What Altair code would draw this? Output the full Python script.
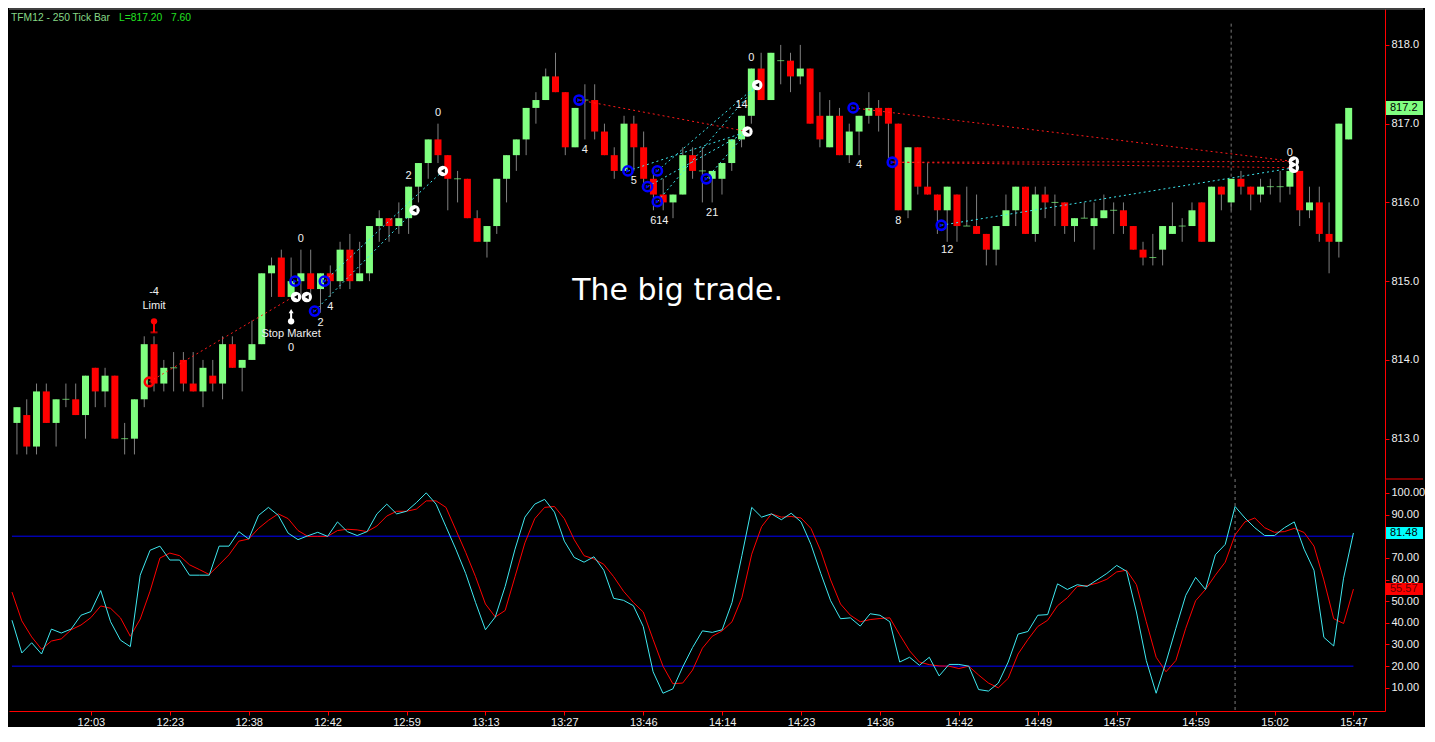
import altair as alt
import pandas as pd

# ---------------- data ----------------
opens = [813.2, 813.3, 812.9, 813.6, 813.2, 813.5, 813.5, 813.3, 813.9, 813.6,
         813.8, 813.0, 813.0, 813.5, 814.2, 813.7, 813.9, 814.0, 813.7, 813.6,
         813.8, 813.7, 814.2, 813.9, 814.0, 814.2, 815.1, 815.3, 814.8, 815.0,
         815.1, 814.9, 815.1, 815.0, 815.4, 815.0, 815.1, 815.7, 815.8, 815.7,
         815.8, 816.2, 816.5, 816.8, 816.6, 816.3, 816.3, 815.8, 815.5, 815.7,
         816.3, 816.6, 816.8, 817.2, 817.3, 817.6, 817.4, 816.7, 817.3, 817.3,
         816.9, 816.6, 816.4, 817.0, 816.7, 816.3, 816.1, 816.0, 816.1, 816.6,
         816.4, 816.3, 816.3, 816.5, 816.8, 817.1, 817.7, 817.3, 817.8, 817.8,
         817.6, 817.7, 817.1, 816.7, 817.1, 816.6, 816.9, 817.1, 817.2, 817.2,
         817.0, 815.9, 816.7, 816.2, 816.1, 815.9, 816.1, 815.7, 815.7, 815.6,
         815.4, 815.7, 815.9, 816.2, 815.6, 816.1, 816.0, 816.0, 815.7, 815.8,
         815.7, 815.8, 815.9, 815.9, 815.7, 815.4, 815.3, 815.4, 815.6, 815.7,
         815.7, 816.0, 815.5, 816.2, 816.0, 816.3, 816.2, 816.1, 816.2, 816.2,
         816.2, 816.4, 815.9, 816.0, 815.6, 815.5, 816.8]
highs = [813.4, 813.5, 813.7, 813.7, 813.5, 813.7, 813.7, 813.8, 813.9, 813.9,
         813.8, 813.2, 813.5, 814.3, 814.3, 814.0, 814.1, 814.1, 814.1, 814.0,
         814.0, 814.3, 814.3, 814.0, 814.5, 815.1, 815.3, 815.4, 815.3, 815.4,
         815.4, 815.1, 815.2, 815.5, 815.6, 815.5, 815.7, 815.9, 815.8, 816.0,
         816.2, 816.5, 816.8, 817.0, 816.6, 816.4, 816.3, 815.9, 815.7, 816.3,
         816.6, 816.8, 817.2, 817.4, 817.7, 817.9, 817.4, 817.2, 817.5, 817.5,
         817.0, 816.7, 817.1, 817.1, 816.9, 816.4, 816.3, 816.1, 816.7, 816.7,
         816.7, 816.4, 816.5, 816.8, 817.1, 817.7, 817.9, 817.9, 818.0, 817.9,
         818.0, 817.7, 817.4, 817.3, 817.2, 817.0, 817.1, 817.4, 817.3, 817.2,
         817.0, 816.7, 816.7, 816.5, 816.1, 816.2, 816.1, 816.2, 816.1, 815.6,
         815.7, 816.1, 816.2, 816.2, 816.2, 816.2, 816.1, 816.0, 815.8, 816.0,
         816.0, 816.1, 816.0, 816.0, 815.7, 815.5, 815.6, 815.7, 816.0, 815.8,
         816.0, 816.0, 816.2, 816.2, 816.3, 816.4, 816.2, 816.3, 816.3, 816.4,
         816.5, 816.4, 816.2, 816.2, 816.0, 817.0, 817.2]
lows = [812.8, 812.8, 812.8, 813.2, 812.9, 813.4, 813.3, 813.0, 813.4, 813.4,
        813.0, 812.8, 812.8, 813.4, 813.6, 813.6, 813.6, 813.6, 813.6, 813.4,
        813.6, 813.5, 813.9, 813.6, 814.0, 814.2, 814.8, 814.8, 814.8, 814.8,
        814.8, 814.6, 814.8, 814.9, 814.9, 815.0, 815.0, 815.5, 815.5, 815.6,
        815.6, 816.0, 816.3, 816.5, 815.9, 816.0, 815.8, 815.5, 815.3, 815.6,
        816.0, 816.4, 816.6, 817.0, 817.3, 817.4, 816.6, 816.7, 816.8, 816.8,
        816.6, 816.3, 816.4, 816.4, 816.2, 815.9, 815.9, 815.8, 816.1, 816.3,
        816.0, 816.0, 816.1, 816.4, 816.7, 817.0, 817.3, 817.3, 817.5, 817.4,
        817.5, 817.0, 816.7, 816.7, 816.6, 816.5, 816.6, 817.0, 816.9, 816.5,
        815.9, 815.8, 816.1, 816.1, 815.6, 815.5, 815.5, 815.7, 815.6, 815.2,
        815.2, 815.7, 815.7, 815.6, 815.5, 815.8, 815.7, 815.6, 815.5, 815.8,
        815.4, 815.8, 815.6, 815.6, 815.4, 815.2, 815.2, 815.2, 815.6, 815.5,
        815.7, 815.5, 815.5, 815.9, 815.9, 816.1, 815.9, 816.0, 816.1, 816.0,
        816.1, 815.7, 815.8, 815.5, 815.1, 815.3, 816.8]
closes = [813.4, 812.9, 813.6, 813.2, 813.5, 813.5, 813.3, 813.8, 813.6, 813.8,
          813.0, 813.0, 813.5, 814.2, 813.7, 813.9, 813.9, 813.7, 813.6, 813.9,
          813.7, 814.2, 813.9, 814.0, 814.2, 815.1, 815.2, 814.8, 815.0, 815.1,
          814.9, 815.1, 815.0, 815.4, 815.0, 815.1, 815.7, 815.8, 815.7, 815.8,
          816.2, 816.5, 816.8, 816.6, 816.3, 816.3, 815.8, 815.5, 815.7, 816.3,
          816.6, 816.8, 817.2, 817.3, 817.6, 817.4, 816.7, 817.2, 817.3, 816.9,
          816.6, 816.4, 817.0, 816.7, 816.3, 816.1, 816.0, 816.1, 816.6, 816.4,
          816.4, 816.4, 816.5, 816.8, 817.1, 817.7, 817.3, 817.9, 817.8, 817.6,
          817.7, 817.0, 816.8, 817.1, 816.6, 816.9, 817.1, 817.2, 817.1, 817.0,
          815.9, 816.7, 816.2, 816.1, 815.9, 816.2, 815.7, 815.7, 815.6, 815.4,
          815.7, 815.9, 816.2, 815.6, 816.1, 816.0, 816.0, 815.7, 815.8, 815.8,
          815.8, 815.9, 815.9, 815.7, 815.4, 815.3, 815.3, 815.7, 815.7, 815.7,
          815.9, 815.5, 816.2, 816.1, 816.3, 816.2, 816.1, 816.2, 816.2, 816.2,
          816.4, 815.9, 816.0, 815.6, 815.5, 817.0, 817.2]

fast_k = [41.2, 26.1, 30.8, 25.6, 37.1, 35.3, 37.1, 43.5, 45.2, 54.9,
          40.5, 32.0, 29.0, 62.0, 73.5, 75.4, 69.0, 69.0, 62.0, 62.0,
          62.0, 75.4, 75.4, 82.1, 78.7, 89.6, 93.3, 89.6, 81.4, 78.4,
          80.2, 81.8, 79.9, 86.6, 82.1, 80.3, 82.1, 90.3, 94.8, 90.3,
          91.5, 95.5, 100.0, 94.8, 84.4, 74.0, 62.8, 49.4, 36.8, 42.7,
          56.8, 74.0, 88.8, 94.8, 97.0, 91.1, 77.7, 70.2, 68.0, 70.5,
          64.3, 51.3, 50.4, 47.9, 38.3, 17.4, 7.5, 9.5, 19.6, 28.6,
          36.3, 35.6, 36.8, 49.4, 71.0, 93.3, 88.8, 90.3, 87.6, 90.6,
          86.6, 76.2, 62.8, 50.2, 41.9, 42.3, 38.5, 44.2, 43.5, 40.5,
          21.9, 24.1, 20.4, 24.1, 15.5, 20.8, 20.8, 20.0, 9.2, 8.5,
          12.2, 21.9, 34.8, 36.0, 43.5, 43.8, 58.0, 55.4, 57.6, 56.8,
          59.8, 62.8, 66.5, 63.8, 45.0, 22.6, 7.5, 21.9, 37.5, 52.7,
          61.0, 55.4, 71.4, 76.2, 93.7, 88.4, 83.9, 80.3, 80.3, 83.9,
          86.6, 74.0, 64.3, 33.3, 29.3, 60.6, 81.48]
slow_d = [54.2, 40.9, 33.5, 27.8, 31.6, 32.6, 36.8, 39.0, 42.4, 47.8,
          46.7, 42.3, 33.8, 41.7, 54.6, 69.9, 72.2, 71.0, 66.8, 64.6,
          62.3, 66.8, 71.4, 77.7, 78.7, 83.6, 87.3, 90.3, 88.1, 82.6,
          79.9, 79.9, 79.9, 82.6, 83.2, 82.9, 82.1, 84.7, 89.3, 91.5,
          91.5, 92.5, 96.3, 96.3, 93.3, 82.9, 72.5, 61.3, 48.7, 42.7,
          45.7, 61.3, 76.9, 88.1, 93.3, 93.7, 88.1, 78.4, 71.0, 69.5,
          67.0, 61.3, 54.6, 49.4, 45.0, 32.3, 20.0, 11.9, 12.2, 18.2,
          28.3, 33.8, 36.3, 40.5, 51.6, 71.7, 84.4, 90.3, 88.8, 89.1,
          88.4, 83.6, 73.2, 59.8, 48.7, 43.5, 40.5, 41.5, 42.0, 42.3,
          34.5, 27.1, 21.9, 20.7, 20.1, 20.0, 18.9, 20.0, 15.9, 12.2,
          10.0, 14.4, 25.6, 32.3, 38.3, 41.2, 47.9, 51.6, 56.8, 57.2,
          58.3, 60.1, 63.5, 64.3, 57.6, 40.5, 24.1, 17.4, 22.6, 37.5,
          50.2, 55.4, 62.0, 68.0, 80.6, 86.6, 88.4, 83.9, 81.8, 82.1,
          83.6, 81.7, 75.4, 59.8, 41.9, 39.7, 55.57]

tick_idx = list(range(8, 137, 8))
tick_labels = ["12:03", "12:23", "12:38", "12:42", "12:59", "13:13", "13:27", "13:46",
               "14:14", "14:23", "14:36", "14:42", "14:49", "14:57", "14:59", "15:02", "15:47"]
price_ticks = [813.0, 814.0, 815.0, 816.0, 817.0, 818.0]
osc_ticks = [10, 20, 30, 40, 50, 60, 70, 80, 90, 100]
osc_levels = [80, 20]
last_price = 817.2
last_k = 81.48
last_d = 55.57
cursor_bar = 124

# trade markers (bar position, price)
blue_x = [28.4, 31.4, 30.4, 57.4, 62.4, 65.4, 64.4, 65.4, 70.4, 85.4, 89.4, 94.4]
blue_y = [815.0, 815.0, 814.62, 817.30, 816.40, 816.40, 816.20, 816.01, 816.30, 817.20, 816.51, 815.71]
white_x = [28.5, 29.6, 40.6, 43.5, 74.6, 75.6, 130.4, 130.4]
white_y = [814.8, 814.8, 815.90, 816.40, 816.90, 817.49, 816.52, 816.44]
entry_x = [13.5]
entry_y = [813.72]

# trade connection lines
line_kind = ["red"] * 5 + ["cyan"] * 8
line_x0 = [13.5, 57.4, 85.4, 89.4, 89.4, 30.4, 31.4, 62.4, 64.4, 65.4, 65.4, 70.4, 94.4]
line_y0 = [813.72, 817.30, 817.20, 816.51, 816.51, 814.62, 815.00, 816.40, 816.20, 816.40, 816.01, 816.30, 815.71]
line_x1 = [28.2, 74.6, 130.4, 130.4, 130.4, 40.6, 43.5, 74.6, 74.6, 75.6, 75.6, 74.6, 130.4]
line_y1 = [814.80, 816.90, 816.52, 816.52, 816.44, 815.90, 816.40, 816.90, 816.90, 817.49, 817.49, 816.90, 816.44]

# order pins: sell limit (red, pointing down), buy stop (white, pointing up)
pin_x = [14, 28]
pin_head = [814.49, 814.49]
pin_tip = [814.35, 814.62]
pin_kind = ["sell", "buy"]
pin_col = ["#ff0000", "#ffffff"]

# annotation texts
ann_x = [14, 14, 28, 28, 29, 32, 31, 40, 43, 58, 63, 65.6, 71, 74, 75, 86, 90, 95, 130]
ann_y = [814.86, 814.68, 814.33, 814.15, 815.53, 814.67, 814.47, 816.34, 817.14, 816.67,
         816.27, 815.77, 815.87, 817.24, 817.83, 816.47, 815.77, 815.39, 816.63]
ann_text = ["-4", "Limit", "Stop Market", "0", "0", "4", "2", "2", "0", "4",
            "5", "614", "21", "14", "0", "4", "8", "12", "0"]

big_note = "The big trade."
big_note_x = 56.7
big_note_y = 814.76

title_parts = ["TFM12 - 250 Tick Bar", "L=817.20", "7.60"]
title_cols = ["#86d886", "#22e022", "#22e022"]

# ---------------- tables ----------------
n = len(opens)
kinds = ["up" if c > o else ("down" if c < o else "doji") for o, c in zip(opens, closes)]
bars = pd.DataFrame({"i": list(range(n)), "open": opens, "high": highs, "low": lows,
                     "close": closes, "kind": kinds})
osc = pd.DataFrame({"i": list(range(n)), "k": fast_k, "d": slow_d})

rows = []
for k, (c, xa, ya, xb, yb) in enumerate(zip(line_kind, line_x0, line_y0, line_x1, line_y1)):
    rows.append({"id": k, "c": c, "i": xa, "p": ya})
    rows.append({"id": k, "c": c, "i": xb, "p": yb})
lines = pd.DataFrame(rows)

blue = pd.DataFrame({"i": blue_x, "p": blue_y})
white = pd.DataFrame({"i": white_x, "p": white_y})
entry = pd.DataFrame({"i": entry_x, "p": entry_y})
pins = pd.DataFrame({"i": pin_x, "head": pin_head, "tip": pin_tip, "kind": pin_kind, "col": pin_col})
ann = pd.DataFrame({"i": ann_x, "p": ann_y, "t": ann_text})
note = pd.DataFrame({"i": [big_note_x], "p": [big_note_y], "t": [big_note]})
cursor = pd.DataFrame({"i": [cursor_bar], "top": [818.27], "bot": [812.488]})
levels = pd.DataFrame({"x0": [0] * len(osc_levels), "x1": [n - 1] * len(osc_levels), "v": osc_levels})
pbadge = pd.DataFrame({"p": [last_price], "t": [f"{last_price:.1f}"]})
obadge = pd.DataFrame({"v": [last_k, last_d], "t": [f"{last_k:.2f}", f"{last_d:.2f}"],
                       "bg": ["#00ffff", "#ff0000"], "fg": ["#000000", "#6a0000"]})

# ---------------- layout / styles ----------------
W, H1, H2 = 1376, 470, 232
AX = "#ff0000"
TXT = "#f0f0f0"
FONT = "Liberation Sans"

xs = alt.Scale(domain=[-0.3, 139.2], nice=False, zero=False)
ps = alt.Scale(domain=[812.488, 818.456], nice=False, zero=False)
os_ = alt.Scale(domain=[-0.7, 106.4], nice=False, zero=False)

paxis = alt.Axis(orient="right", values=price_ticks, format=".1f", labelColor=TXT,
                 labelFont=FONT, labelFontSize=11, domainColor=AX, tickColor=AX,
                 tickSize=4, labelPadding=2, grid=False, title=None)
oaxis = alt.Axis(orient="right", values=osc_ticks,
                 labelExpr=f"datum.value == {osc_levels[0]} ? '' : format(datum.value, '.2f')",
                 labelColor=TXT, labelFont=FONT, labelFontSize=11, domainColor=AX, tickColor=AX,
                 tickSize=4, labelPadding=2, grid=False, title=None)
labels_js = "[" + ",".join(f"'{t}'" for t in tick_labels) + "]"
xaxis = alt.Axis(orient="bottom", values=tick_idx,
                 labelExpr=f"{labels_js}[round((datum.value - {tick_idx[0]}) / {tick_idx[1] - tick_idx[0]})]",
                 labelColor=TXT, labelFont=FONT, labelFontSize=11, domainColor=AX,
                 tickColor=AX, tickSize=4, labelPadding=1, grid=False, title=None)

XP = alt.X("i:Q", scale=xs, axis=None)
XO = alt.X("i:Q", scale=xs, axis=xaxis)


def PY(f):
    return alt.Y(f, scale=ps, axis=paxis)


def OY(f):
    return alt.Y(f, scale=os_, axis=oaxis)


# ---------------- price pane ----------------
top_line = alt.Chart(note).mark_rule(color="#808080").encode(
    x=alt.value(0), x2=alt.value(W + 38), y=alt.value(0))
sep_line = alt.Chart(note).mark_rule(color=AX).encode(
    x=alt.value(W), x2=alt.value(W + 38), y=alt.value(H1))
cur_p = alt.Chart(cursor).mark_rule(color="#7a7a7a", strokeDash=[3, 3]).encode(
    x=XP, y=PY("top:Q"), y2="bot:Q")
wicks = alt.Chart(bars).mark_rule(color="#808080").encode(x=XP, y=PY("low:Q"), y2="high:Q")
bodies = alt.Chart(bars).transform_filter("datum.kind != 'doji'").mark_bar(size=7).encode(
    x=XP, y=PY("open:Q"), y2="close:Q",
    color=alt.Color("kind:N", scale=alt.Scale(domain=["up", "down"], range=["#80ff80", "#ff0000"]),
                    legend=None))
dojis = alt.Chart(bars).transform_filter("datum.kind == 'doji'").mark_tick(
    orient="horizontal", size=7, thickness=1, color="#80ff80").encode(x=XP, y=PY("close:Q"))

red_lines = alt.Chart(lines).transform_filter("datum.c == 'red'").mark_line(
    color="#ff1a1a", strokeDash=[2, 3], strokeWidth=1).encode(x=XP, y=PY("p:Q"), detail="id:N")
cyan_lines = alt.Chart(lines).transform_filter("datum.c == 'cyan'").mark_line(
    color="#3ee8f0", strokeDash=[2, 3], strokeWidth=1).encode(x=XP, y=PY("p:Q"), detail="id:N")

blue_ring = alt.Chart(blue).mark_point(shape="circle", size=85, filled=False, color="#0000ff",
                                       strokeWidth=2.6, opacity=1).encode(x=XP, y=PY("p:Q"))
blue_tri = alt.Chart(blue).mark_point(shape="triangle-right", size=18, filled=True,
                                      color="#0000ff", opacity=1).encode(x=XP, y=PY("p:Q"))
white_dot = alt.Chart(white).mark_point(shape="circle", size=110, filled=True, color="#ffffff",
                                        opacity=1).encode(x=XP, y=PY("p:Q"))
white_tri = alt.Chart(white).mark_point(shape="triangle-left", size=20, filled=True,
                                        color="#000000", opacity=1).encode(x=XP, y=PY("p:Q"))
entry_ring = alt.Chart(entry).mark_point(shape="circle", size=75, filled=False, color="#ff0000",
                                         strokeWidth=2.6, opacity=1).encode(x=XP, y=PY("p:Q"))

pin_color = alt.Color("col:N", scale=None)
pin_stem = alt.Chart(pins).mark_rule(strokeWidth=2).encode(x=XP, y=PY("head:Q"), y2="tip:Q",
                                                            color=pin_color)
pin_head_m = alt.Chart(pins).mark_point(shape="circle", size=40, filled=True, opacity=1).encode(
    x=XP, y=PY("head:Q"), color=pin_color)
pin_base = alt.Chart(pins).transform_filter("datum.kind == 'sell'").mark_tick(
    orient="horizontal", size=7, thickness=2, color="#ff0000").encode(x=XP, y=PY("tip:Q"))
pin_arrow = alt.Chart(pins).transform_filter("datum.kind == 'buy'").mark_point(
    shape="triangle-up", size=24, filled=True, color="#ffffff", opacity=1).encode(x=XP, y=PY("tip:Q"))

ann_text_m = alt.Chart(ann).mark_text(color=TXT, font=FONT, fontSize=11).encode(
    x=XP, y=PY("p:Q"), text="t:N")
note_m = alt.Chart(note).mark_text(color="#ffffff", font="DejaVu Sans", fontSize=30,
                                   align="left", baseline="alphabetic").encode(
    x=XP, y=PY("p:Q"), text="t:N")
title_a = alt.Chart(note).mark_text(color=title_cols[0], font=FONT, fontSize=10.3, align="left",
                                    baseline="middle").encode(
    x=alt.value(2), y=alt.value(9), text=alt.value(title_parts[0]))
title_b = alt.Chart(note).mark_text(color=title_cols[1], font=FONT, fontSize=10.3, align="left",
                                    baseline="middle").encode(
    x=alt.value(110), y=alt.value(9), text=alt.value(title_parts[1]))
title_c = alt.Chart(note).mark_text(color=title_cols[2], font=FONT, fontSize=10.3, align="left",
                                    baseline="middle").encode(
    x=alt.value(162), y=alt.value(9), text=alt.value(title_parts[2]))

pb_bg = alt.Chart(pbadge).mark_tick(orient="horizontal", size=37, thickness=14,
                                    color="#80ff80", opacity=1).encode(
    x=alt.value(W + 19.5), y=PY("p:Q"))
pb_tx = alt.Chart(pbadge).mark_text(color="#000000", font=FONT, fontSize=11, align="left",
                                    baseline="middle").encode(
    x=alt.value(W + 5), y=PY("p:Q"), text="t:N")

price = alt.layer(
    top_line, cur_p, wicks, bodies, dojis, red_lines, cyan_lines,
    entry_ring, blue_ring, blue_tri, white_dot, white_tri,
    pin_stem, pin_head_m, pin_base, pin_arrow,
    ann_text_m, note_m, title_a, title_b, title_c, pb_bg, pb_tx, sep_line
).properties(width=W, height=H1)

# ---------------- oscillator pane ----------------
cur_o = alt.Chart(cursor).mark_rule(color="#7a7a7a", strokeDash=[3, 3]).encode(
    x=XO, y=alt.value(0), y2=alt.value(H2))
lvl = alt.Chart(levels).mark_rule(color="#0000ff", strokeWidth=1).encode(
    x=alt.X("x0:Q", scale=xs, axis=xaxis), x2="x1:Q", y=OY("v:Q"))
d_line = alt.Chart(osc).mark_line(color="#ff0000", strokeWidth=1).encode(x=XO, y=OY("d:Q"))
k_line = alt.Chart(osc).mark_line(color="#3ee8f0", strokeWidth=1).encode(x=XO, y=OY("k:Q"))
ob_bg = alt.Chart(obadge).mark_tick(orient="horizontal", size=37, thickness=12, opacity=1).encode(
    x=alt.value(W + 19.5), y=OY("v:Q"), color=alt.Color("bg:N", scale=None))
ob_tx = alt.Chart(obadge).mark_text(font=FONT, fontSize=11, align="left", baseline="middle").encode(
    x=alt.value(W + 5), y=OY("v:Q"), text="t:N", color=alt.Color("fg:N", scale=None))

oscp = alt.layer(cur_o, lvl, d_line, k_line, ob_bg, ob_tx).properties(width=W, height=H2)

chart = alt.vconcat(price, oscp, spacing=0, bounds="flush").properties(
    padding=0, background="#000000"
).configure_view(strokeWidth=0)

chart.save("out.html", embed_options={"renderer": "svg", "actions": False})
